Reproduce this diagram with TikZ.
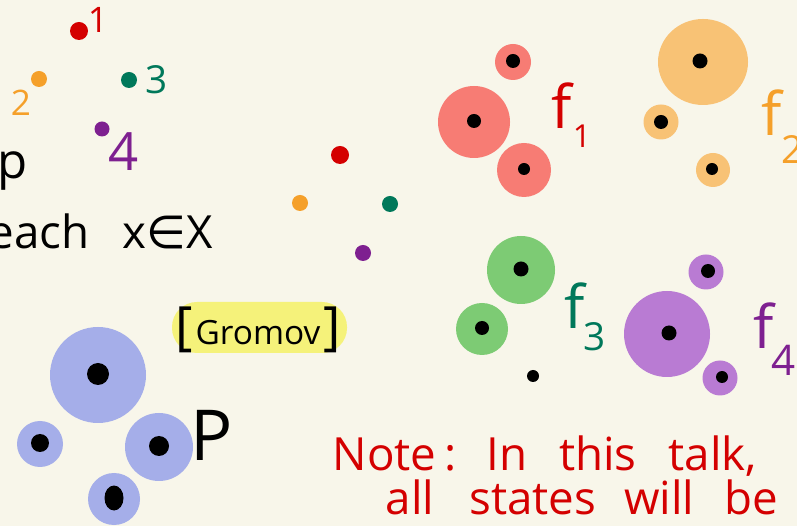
\documentclass[tikz,border=0pt]{standalone}
\usepackage{fontspec}
\setmainfont{Open Sans}
\newfontfamily\symfont{DejaVu Sans}

% pen and disc colours
\definecolor{paper}{HTML}{F8F6EA}
\definecolor{redpen}{HTML}{D40000}
\definecolor{orangepen}{HTML}{F5A02A}
\definecolor{greenpen}{HTML}{00785A}
\definecolor{purplepen}{HTML}{7E2090}
\definecolor{redfill}{HTML}{F77C74}
\definecolor{orangefill}{HTML}{F8C275}
\definecolor{greenfill}{HTML}{7DCB74}
\definecolor{purplefill}{HTML}{B97BD3}
\definecolor{bluefill}{HTML}{A5AEE9}
\definecolor{hiyellow}{HTML}{F5F27A}

\begin{document}
\begin{tikzpicture}[
    x=0.1mm, y=-0.1mm,
    every node/.style={inner sep=0pt},
    hand/.style={font=\fontsize{#1}{#1}\selectfont},
]

% === Page (pixel grid, y down) ===
\useasboundingbox (0,0) rectangle (797,526);
\fill[paper] (0,0) rectangle (797,526);
\clip (0,0) rectangle (797,526);

% === Four labelled points (top left) ===
\fill[redpen]    (79,31)  circle (9);
\fill[orangepen] (39,79)  circle (8);
\fill[greenpen]  (129,80) circle (8);
\fill[purplepen] (102,129) circle (7.5);
\node[hand=10, text=redpen]    (lone)   at (98,20)  {1};
\node[hand=10, text=orangepen] (ltwo)   at (21,103) {2};
\node[hand=11, text=greenpen]  (lthree) at (157,80) {3};
\node[hand=15, text=purplepen] (lfour)  at (124,152) {4};

\node[hand=14] (pcut) at (13,171) {p};
\node[hand=13, anchor=base west] (eachx) at (-12,249)
    {each\hspace{3.3mm}x{\symfont ∈}X};

% === Same four points, unlabelled (middle) ===
\fill[redpen]    (340,155) circle (9);
\fill[orangepen] (300,203) circle (8);
\fill[greenpen]  (390,204) circle (8);
\fill[purplepen] (363,253) circle (8);

% === f_1 : red discs ===
\foreach \cx/\cy/\rr/\dr in {513/62/18/7, 474/122/36/7, 524/170/27/6} {
    \fill[redfill] (\cx,\cy) circle (\rr);
    \fill (\cx,{\cy-1}) circle (\dr);
}
\node[hand=17, text=redpen] (fone) at (562,106) {f};
\node[hand=9, text=redpen] (fonesub) at (582,136) {1};

% === f_2 : orange discs ===
\fill[orangefill] (703,62) ellipse (45 and 43);
\foreach \cx/\cy/\rr in {661/122/17.5, 713/170/17} {
    \fill[orangefill] (\cx,\cy) circle (\rr);
}
\foreach \cx/\cy/\dr in {700/61/7.5, 661/122/7, 712/169/6} {
    \fill (\cx,\cy) circle (\dr);
}
\node[hand=17, text=orangepen] (ftwo) at (772,113) {f};
\node[hand=11, text=orangepen] (ftwosub) at (793,150) {2};

% === f_3 : green discs ===
\foreach \cx/\cy/\rr/\dr in {521/270/34/7.5, 482/329/26/7} {
    \fill[greenfill] (\cx,\cy) circle (\rr);
    \fill (\cx,{\cy-1}) circle (\dr);
}
\node[hand=17, text=greenpen] (fthree) at (575,306) {f};
\node[hand=11, text=greenpen] (fthreesub) at (595,337) {3};

% lone point, no disc
\fill (533,376) circle (6);

% === f_4 : purple discs ===
\foreach \cx/\cy/\rr/\dr in {667/334/43/7.5, 706/272/17.5/7, 720/378/17.5/6} {
    \fill[purplefill] (\cx,\cy) circle (\rr);
    \fill (\cx+2,\cy-1) circle (\dr);
}
\node[hand=17, text=purplepen] (ffour) at (764,326) {f};
\node[hand=12, text=purplepen] (ffoursub) at (784,360) {4};

% === P : blue discs ===
\foreach \cx/\cy/\rr/\dr in {98/375/48/11, 40/444/23/9, 159/447/34/10} {
    \fill[bluefill] (\cx,\cy) circle (\rr);
    \fill (\cx,{\cy-1}) circle (\dr);
}
\fill[bluefill] (114,499) circle (26);
\fill (114,498) ellipse (9.5 and 12.5);
\node[hand=20] (pname) at (212,435) {P};

% === Citation tag (highlighter pill behind the text) ===
\fill[hiyellow, rounded corners=2.5mm] (172,302) rectangle (347,353);
\node[hand=9.5] (gromov) at (258,330)
    {{\fontsize{15}{15}\selectfont[}\hspace{0.3mm}Gromov\hspace{0.3mm}{\fontsize{15}{15}\selectfont]}};

% === Note ===
\node[hand=13, text=redpen, anchor=base west] (noteone) at (332,471)
    {Note\,:\hspace{3mm}In\hspace{3.2mm}this\hspace{3.2mm}talk,};
\node[hand=13, text=redpen, anchor=base west] (notetwo) at (385,514)
    {all\hspace{3.5mm}states\hspace{2.8mm}will\hspace{3mm}be};

\end{tikzpicture}
\end{document}
